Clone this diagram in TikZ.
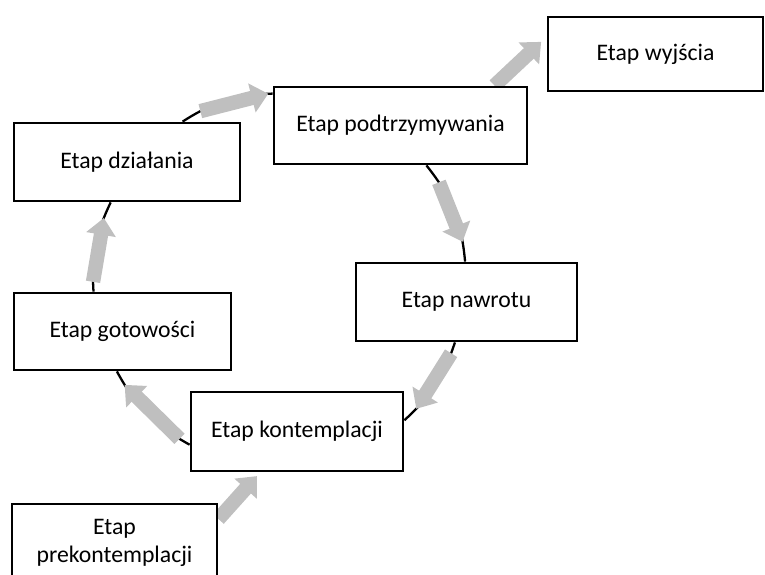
\documentclass[tikz,border=0pt]{standalone}
\usepackage{fontspec}
\setmainfont{Carlito}
\usetikzlibrary{arrows.meta, backgrounds}
\definecolor{flowgray}{HTML}{BFBFBF}

\begin{document}
\begin{tikzpicture}[
  every node/.style={font=\fontsize{13.5}{16}\selectfont},
  stage/.style={rectangle, draw=black, line width=1.6pt, fill=white, align=center, inner sep=2pt},
  ring/.style={draw=black, line width=1.3pt},
  flow/.style={draw=flowgray, line width=8.2pt, -{Triangle[length=9.6pt, width=16.5pt]}},
]
\useasboundingbox (0,0) rectangle (15.3,11.5);

\node[stage, minimum width=4.30cm, minimum height=1.48cm] (wyj) at (13.11,10.42) {Etap wyjścia};
\node[stage, minimum width=5.06cm, minimum height=1.54cm] (podtrz) at (8.01,8.99) {Etap podtrzymywania};
\node[stage, minimum width=4.52cm, minimum height=1.56cm] (dzial) at (2.54,8.26) {Etap działania};
\node[stage, minimum width=4.34cm, minimum height=1.54cm] (gotow) at (2.45,4.87) {Etap gotowości};
\node[stage, minimum width=4.42cm, minimum height=1.56cm] (nawrot) at (9.33,5.46) {Etap nawrotu};
\node[stage, minimum width=4.24cm, minimum height=1.58cm] (kontem) at (5.94,2.87) {Etap kontemplacji};
\node[stage, minimum width=4.10cm, minimum height=1.56cm] (prekon) at (2.29,0.64) {Etap\\prekontemplacji};

\begin{scope}[on background layer]
\draw[ring] (kontem.187) to[bend left=16.3] coordinate[pos=0.1] (f1) coordinate[pos=0.865] (f2) (gotow.262);
\draw[flow] (f1) -- (f2);
\draw[ring] (gotow.126) to[bend left=14.6] coordinate[pos=0.095] (b1) coordinate[pos=0.83] (b2) (dzial.248.5);
\draw[flow] (b1) -- (b2);
\draw[ring] (dzial.36) to[bend left=15.4] coordinate[pos=0.2] (a1) coordinate[pos=0.96] (a2) (podtrz.166);
\draw[flow] (a1) -- (a2);
\draw[ring] (podtrz.303) to[bend left=16.7] coordinate[pos=0.185] (c1) coordinate[pos=0.825] (c2) (nawrot.92);
\draw[flow] (c1) -- (c2);
\draw[ring] (nawrot.254.5) to[bend left=14.8] coordinate[pos=0.11] (e1) coordinate[pos=0.84] (e2) (kontem.6.5);
\draw[flow] (e1) -- (e2);
\draw[flow, shorten >=0.15cm] (podtrz.23) -- (wyj.171.5);
\draw[flow, shorten >=0.1cm] (prekon.13.7) -- (kontem.228);
\end{scope}

\end{tikzpicture}
\end{document}
